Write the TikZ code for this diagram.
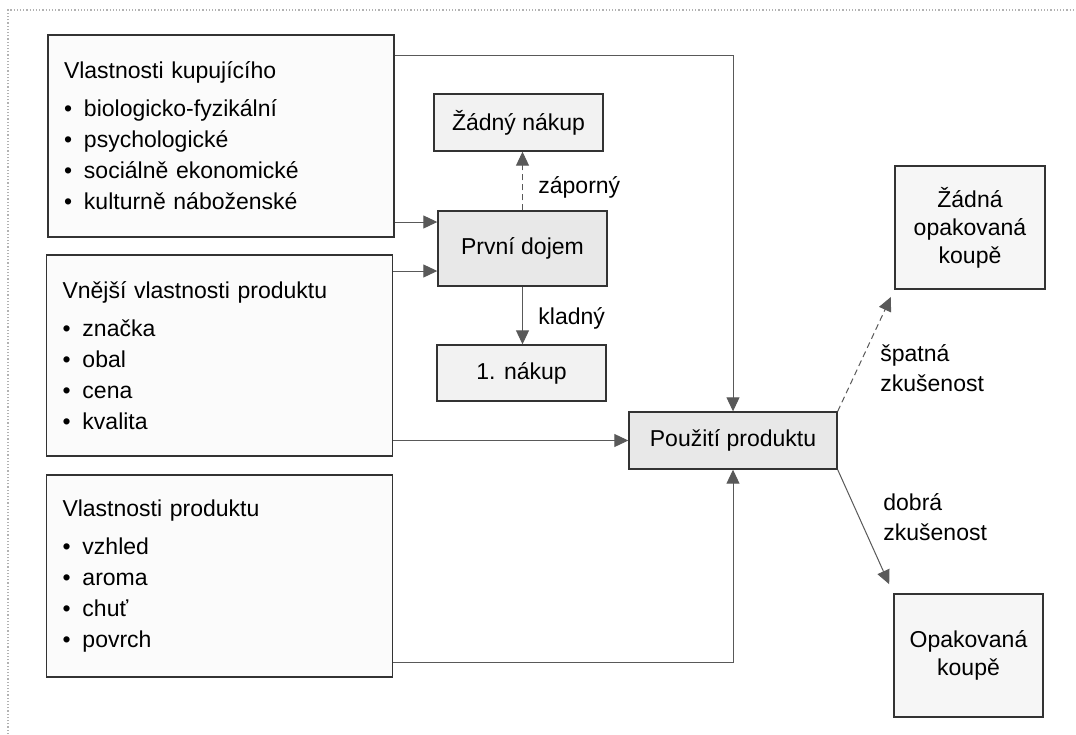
\documentclass[tikz,border=0pt]{standalone}
\usepackage{fontspec}
\setmainfont{Liberation Sans}
\usetikzlibrary{arrows.meta, positioning, calc}

\newcommand{\itm}{\makebox[10pt][l]{\textbullet}}

\begin{document}
\begin{tikzpicture}[x=0.5pt, y=-0.5pt,
    box/.style={draw=black!80, line width=0.7pt, fill=gray!14, align=center,
                font=\fontsize{11.5}{14}\selectfont, inner sep=2pt},
    listbox/.style={box, fill=gray!3, align=left, text width=157pt,
                    inner xsep=8pt, font=\fontsize{11.5}{15.5}\selectfont},
    link/.style={draw=black!65, line width=0.5pt,
                 -{Triangle[length=7pt, width=6.5pt]}},
    neg/.style={link, dash pattern=on 3pt off 2pt},
    lbl/.style={font=\fontsize{11.5}{15}\selectfont, align=left,
                anchor=west, inner sep=0pt}]
  \useasboundingbox (0,0) rectangle (1076,734);
  \fill[white] (0,0) rectangle (1076,734);
  % scan frame
  \draw[gray!60, densely dotted, line width=0.6pt] (8,734) -- (8,10) -- (1076,10);

  % the three groups of properties
  \node[listbox, minimum height=101pt] (buyer) at (221,136)
    {Vlastnosti kupujícího\\[3.5pt]
     \itm biologicko-fyzikální\\
     \itm psychologické\\
     \itm sociálně ekonomické\\
     \itm kulturně náboženské};
  \node[listbox, minimum height=100.5pt] (ext) at (219.5,355.5)
    {Vnější vlastnosti produktu\\[3.5pt]
     \itm značka\\
     \itm obal\\
     \itm cena\\
     \itm kvalita};
  \node[listbox, minimum height=101pt] (prod) at (219.5,576)
    {Vlastnosti produktu\\[3.5pt]
     \itm vzhled\\
     \itm aroma\\
     \itm chuť\\
     \itm povrch};

  % first impression and first purchase
  \node[box, fill=gray!10, minimum width=84.5pt, minimum height=28.5pt] (noBuy) at (518.5,122.5) {Žádný nákup};
  \node[box, fill=gray!18, minimum width=84.5pt, minimum height=37.5pt] (first) at (522.5,248.5) {První dojem};
  \node[box, fill=gray!10, minimum width=84.5pt, minimum height=28pt] (buy1) at (521.5,373) {1. nákup};

  % use and repeat purchase
  \node[box, fill=gray!18, minimum width=104pt, minimum height=28.5pt] (use) at (733,440.5) {Použití produktu};
  \node[box, fill=gray!7, minimum width=75pt, minimum height=61.5pt] (noRep) at (970,227.5) {Žádná\\opakovaná\\koupě};
  \node[box, fill=gray!7, minimum width=74.5pt, minimum height=61.5pt] (rep) at (968.5,655.5) {Opakovaná\\koupě};

  % connectors
  \draw[link] (buyer.east |- 0,222) -- (first.west |- 0,222);
  \draw[link] (ext.east |- 0,271) -- (first.west |- 0,271);
  \draw[link] (buyer.east |- 0,55) -- (use.north |- 0,55) -- (use.north);
  \draw[link] (ext.east |- use.west) -- (use.west);
  \draw[link] (prod.east |- 0,662) -- (use.south |- 0,662) -- (use.south);
  \draw[neg] (first.north) -- (first.north |- noBuy.south);
  \draw[link] (first.south) -- (first.south |- buy1.north);
  \draw[neg, shorten >=4pt] (use.north east) -- (noRep.south west);
  \draw[link, shorten >=5pt] (use.south east) -- (rep.north west);

  % labels
  \node[lbl] (lNeg) at (538,187) {záporný};
  \node[lbl] (lPos) at (538,318) {kladný};
  \node[lbl] (lBad) at (880,368) {špatná\\zkušenost};
  \node[lbl] (lGood) at (883,517) {dobrá\\zkušenost};
\end{tikzpicture}
\end{document}
